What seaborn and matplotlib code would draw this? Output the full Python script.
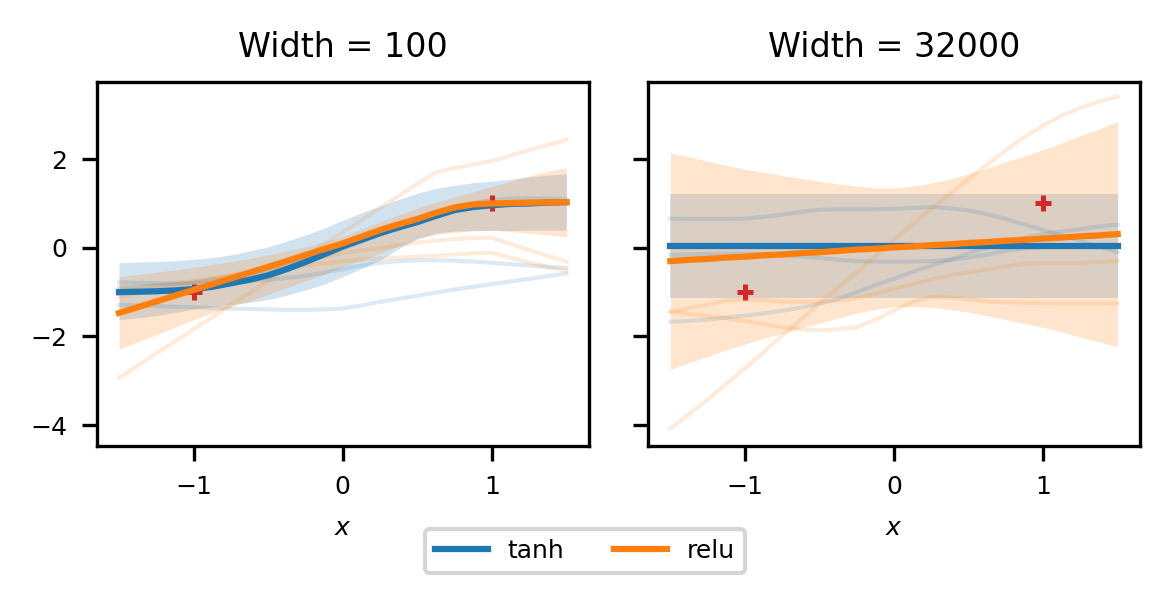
import matplotlib

matplotlib.use("Agg")  # headless
import matplotlib.pyplot as plt  # noqa: E402
import seaborn as sns  # noqa: E402

# input grid shared by every curve
X = [-1.5, -1.375, -1.25, -1.125, -1.0, -0.875, -0.75, -0.625, -0.5, -0.375, -0.25, -0.125, 0.0,
     0.125, 0.25, 0.375, 0.5, 0.625, 0.75, 0.875, 1.0, 1.125, 1.25, 1.375, 1.5]

# training points
TRAIN_X = [-1.0, 1.0]
TRAIN_Y = [-1.0, 1.0]

# ---- width = 100 ----
TANH_100_MEAN = [-1.0, -0.99, -0.98, -0.96, -0.93, -0.88, -0.8, -0.72, -0.62, -0.48, -0.32, -0.15, 0.03,
                 0.18, 0.33, 0.46, 0.58, 0.72, 0.85, 0.92, 0.96, 0.99, 1.0, 1.02, 1.03]
TANH_100_LO = [-1.62, -1.58, -1.53, -1.46, -1.38, -1.33, -1.28, -1.23, -1.17, -1.07, -0.95, -0.82, -0.65,
               -0.47, -0.28, -0.02, 0.2, 0.33, 0.38, 0.39, 0.39, 0.39, 0.40, 0.40, 0.40]
TANH_100_HI = [-0.34, -0.32, -0.31, -0.29, -0.26, -0.22, -0.16, -0.07, 0.02, 0.15, 0.29, 0.44, 0.62,
               0.79, 0.94, 1.09, 1.23, 1.34, 1.41, 1.47, 1.50, 1.55, 1.6, 1.64, 1.67]
RELU_100_MEAN = [-1.47, -1.34, -1.21, -1.08, -0.95, -0.82, -0.69, -0.56, -0.43, -0.3, -0.16, -0.03, 0.1,
                 0.25, 0.4, 0.53, 0.65, 0.79, 0.91, 0.98, 1.0, 1.01, 1.02, 1.025, 1.03]
RELU_100_LO = [-2.29, -2.12, -1.96, -1.79, -1.62, -1.47, -1.33, -1.2, -1.05, -0.9, -0.75, -0.6, -0.43,
               -0.28, -0.13, 0.04, 0.21, 0.3, 0.35, 0.38, 0.4, 0.37, 0.33, 0.29, 0.25]
RELU_100_HI = [-0.65, -0.6, -0.55, -0.5, -0.44, -0.38, -0.31, -0.24, -0.16, -0.07, 0.02, 0.13, 0.26,
               0.42, 0.59, 0.74, 0.89, 1.03, 1.15, 1.26, 1.38, 1.5, 1.62, 1.72, 1.81]
TANH_100_SAMPLES = [
    [-1.29, -1.30, -1.31, -1.33, -1.34, -1.36, -1.37, -1.38, -1.39, -1.40, -1.40, -1.39, -1.37,
     -1.30, -1.22, -1.15, -1.08, -1.01, -0.94, -0.88, -0.82, -0.76, -0.70, -0.64, -0.58],
    [-0.78, -0.79, -0.80, -0.80, -0.80, -0.79, -0.78, -0.75, -0.72, -0.68, -0.63, -0.56, -0.48,
     -0.40, -0.34, -0.30, -0.28, -0.28, -0.29, -0.31, -0.34, -0.37, -0.40, -0.43, -0.45],
    [-0.9, -0.88, -0.85, -0.82, -0.78, -0.72, -0.66, -0.58, -0.5, -0.4, -0.28, -0.15, -0.02,
     0.14, 0.3, 0.46, 0.62, 0.77, 0.9, 1.0, 1.08, 1.11, 1.12, 1.11, 1.1],
]
RELU_100_SAMPLES = [
    [-2.93, -2.66, -2.38, -2.11, -1.84, -1.57, -1.29, -1.02, -0.75, -0.47, -0.2, 0.08, 0.35,
     0.62, 0.9, 1.17, 1.44, 1.7, 1.8, 1.88, 1.96, 2.08, 2.2, 2.32, 2.44],
    [-1.1, -1.02, -0.95, -0.88, -0.8, -0.71, -0.62, -0.53, -0.45, -0.36, -0.28, -0.2, -0.12,
     -0.06, 0.0, 0.06, 0.12, 0.16, 0.2, 0.22, 0.23, 0.09, -0.05, -0.18, -0.31],
    [-0.95, -0.9, -0.85, -0.8, -0.75, -0.68, -0.62, -0.56, -0.5, -0.45, -0.4, -0.35, -0.3,
     -0.27, -0.24, -0.22, -0.2, -0.18, -0.15, -0.12, -0.11, -0.22, -0.33, -0.43, -0.52],
]

# ---- width = 32000 ----
TANH_32K_MEAN = [0.04, 0.04, 0.04, 0.04, 0.04, 0.04, 0.04, 0.04, 0.04, 0.04, 0.04, 0.04, 0.04,
                 0.04, 0.04, 0.04, 0.04, 0.04, 0.04, 0.04, 0.04, 0.04, 0.04, 0.04, 0.04]
TANH_32K_LO = [-1.14, -1.14, -1.14, -1.14, -1.14, -1.14, -1.14, -1.14, -1.14, -1.14, -1.14, -1.14, -1.14,
               -1.14, -1.14, -1.14, -1.14, -1.14, -1.14, -1.14, -1.14, -1.14, -1.14, -1.14, -1.14]
TANH_32K_HI = [1.21, 1.21, 1.21, 1.21, 1.21, 1.21, 1.21, 1.21, 1.21, 1.21, 1.21, 1.21, 1.21,
               1.21, 1.21, 1.21, 1.21, 1.21, 1.21, 1.21, 1.21, 1.21, 1.21, 1.21, 1.21]
RELU_32K_MEAN = [-0.30, -0.27, -0.25, -0.22, -0.20, -0.17, -0.15, -0.12, -0.10, -0.07, -0.04, -0.02, 0.01,
                 0.03, 0.06, 0.08, 0.11, 0.13, 0.16, 0.18, 0.21, 0.23, 0.26, 0.28, 0.31]
RELU_32K_LO = [-2.74, -2.59, -2.45, -2.30, -2.17, -2.04, -1.93, -1.81, -1.70, -1.58, -1.47, -1.39, -1.33,
               -1.33, -1.34, -1.39, -1.45, -1.53, -1.62, -1.71, -1.79, -1.90, -2.01, -2.12, -2.23]
RELU_32K_HI = [2.14, 2.05, 1.95, 1.86, 1.77, 1.70, 1.63, 1.57, 1.50, 1.44, 1.39, 1.35, 1.35,
               1.39, 1.46, 1.55, 1.67, 1.79, 1.94, 2.07, 2.21, 2.36, 2.53, 2.68, 2.85]
TANH_32K_SAMPLES = [
    [0.66, 0.65, 0.65, 0.65, 0.66, 0.7, 0.75, 0.81, 0.86, 0.87, 0.87, 0.87, 0.88,
     0.9, 0.92, 0.89, 0.84, 0.76, 0.65, 0.53, 0.40, 0.28, 0.16, 0.03, -0.1],
    [-1.67, -1.65, -1.62, -1.57, -1.53, -1.48, -1.42, -1.35, -1.26, -1.15, -1.0, -0.84, -0.7,
     -0.54, -0.4, -0.27, -0.12, 0.0, 0.12, 0.23, 0.31, 0.37, 0.42, 0.48, 0.52],
    [-0.16, -0.15, -0.14, -0.13, -0.13, -0.14, -0.16, -0.19, -0.23, -0.27, -0.3, -0.31, -0.31,
     -0.31, -0.3, -0.27, -0.22, -0.15, -0.07, -0.01, 0.02, 0.04, 0.05, 0.05, 0.05],
]
RELU_32K_SAMPLES = [
    [-4.08, -3.75, -3.42, -3.07, -2.72, -2.35, -1.98, -1.62, -1.25, -0.9, -0.55, -0.19, 0.18,
     0.53, 0.88, 1.22, 1.55, 1.88, 2.2, 2.5, 2.76, 2.98, 3.16, 3.3, 3.41],
    [-1.44, -1.36, -1.28, -1.19, -1.17, -1.18, -1.21, -1.22, -1.21, -1.19, -1.13, -1.03, -0.92,
     -0.82, -0.72, -0.62, -0.55, -0.49, -0.42, -0.36, -0.35, -0.35, -0.35, -0.32, -0.29],
    [-1.44, -1.49, -1.54, -1.59, -1.65, -1.72, -1.79, -1.84, -1.86, -1.84, -1.79, -1.62, -1.41,
     -1.22, -1.1, -1.12, -1.16, -1.21, -1.23, -1.24, -1.25, -1.25, -1.25, -1.25, -1.25],
]

TITLES = ["Width = 100", "Width = 32000"]
ACTIVATIONS = ["tanh", "relu"]
COLORS = {"tanh": "#1f77b4", "relu": "#ff7f0e"}
POINT_COLOR = "#d62728"

PANELS = [
    {
        "tanh": (TANH_100_MEAN, TANH_100_LO, TANH_100_HI, TANH_100_SAMPLES),
        "relu": (RELU_100_MEAN, RELU_100_LO, RELU_100_HI, RELU_100_SAMPLES),
    },
    {
        "tanh": (TANH_32K_MEAN, TANH_32K_LO, TANH_32K_HI, TANH_32K_SAMPLES),
        "relu": (RELU_32K_MEAN, RELU_32K_LO, RELU_32K_HI, RELU_32K_SAMPLES),
    },
]


def draw_panel(ax, title, series):
    # bands first, then faint samples, training points, and the means on top
    for act in ACTIVATIONS:
        _, lo, hi, _ = series[act]
        ax.fill_between(X, lo, hi, color=COLORS[act], alpha=0.2, lw=0, zorder=1)
    for act in ACTIVATIONS:
        for s in series[act][3]:
            sns.lineplot(x=X, y=s, ax=ax, color=COLORS[act], lw=1, alpha=0.15,
                         errorbar=None, sort=False, legend=False, zorder=1.5)
    sns.scatterplot(x=TRAIN_X, y=TRAIN_Y, ax=ax, marker="+", color=POINT_COLOR, s=16,
                    linewidth=1.2, legend=False, zorder=2)
    for act in ACTIVATIONS:
        sns.lineplot(x=X, y=series[act][0], ax=ax, color=COLORS[act], lw=1.5, label=act,
                     errorbar=None, sort=False, legend=False, zorder=3)
    ax.set_title(title, fontsize=8)
    ax.set_xlabel("$x$", fontsize=6, labelpad=4)
    ax.set_ylabel("")
    ax.set_xticks([-1, 0, 1])
    ax.set_yticks([-4, -2, 0, 2])
    ax.tick_params(labelsize=6)


fig, axes = plt.subplots(1, 2, figsize=(3.9, 2.0067), dpi=300, sharey=True)
fig.subplots_adjust(left=0.0826, right=0.9744, bottom=0.2591, top=0.8638, wspace=0.1205)

for ax, title, series in zip(axes, TITLES, PANELS):
    draw_panel(ax, title, series)
axes[0].set_ylim(-4.47, 3.74)

handles, labels = axes[0].get_legend_handles_labels()
fig.legend(handles, labels, loc="lower center", ncol=2, bbox_to_anchor=(0.5, 0.0487),
           borderaxespad=0, fontsize=6, handlelength=2.1)

fig.savefig("out.png", dpi=300)
